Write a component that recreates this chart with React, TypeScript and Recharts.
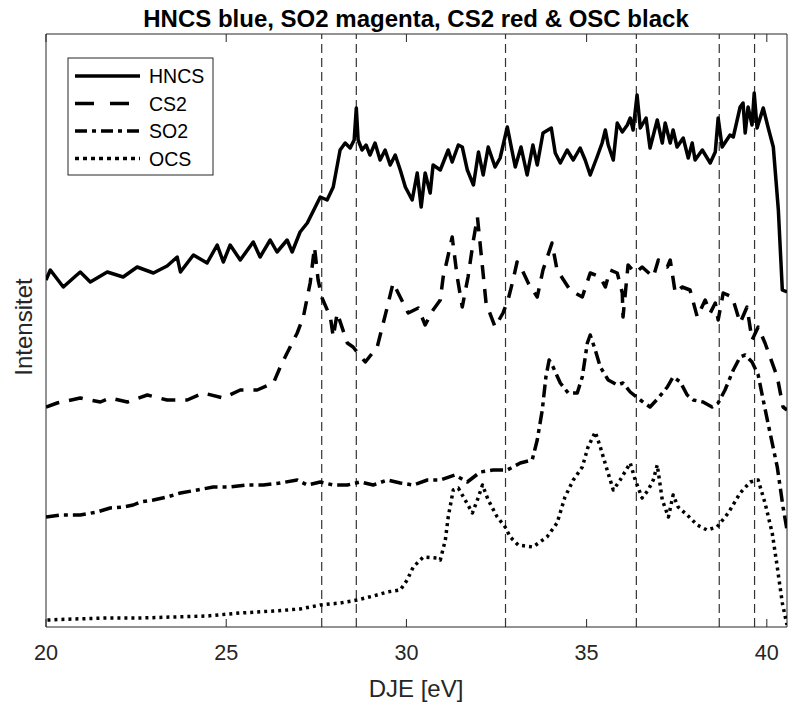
import React from 'react';
import { LineChart, Line, XAxis, YAxis, ReferenceLine } from 'recharts';

const FONT = '"Liberation Sans", Arial, Helvetica, sans-serif';
const AX = '#262626';

const title = 'HNCS blue, SO2 magenta, CS2 red & OSC black';
const xLabel = 'DJE [eV]';
const yLabel = 'Intensitet';
const xTicks = [20, 25, 30, 35, 40];
const xDomain: [number, number] = [20, 40.56];
const yDomain: [number, number] = [0, 593];
const markerLines = [27.65, 28.61, 32.75, 36.38, 38.68, 39.66];
const seriesNames = ['HNCS', 'CS2', 'SO2', 'OCS'];

// [energy eV, intensity (arb. units, stacked)]
const hncs: number[][] = [[20.00,347],[20.12,357],[20.48,340],[20.76,349],[20.95,355],[21.23,345],[21.70,355],[22.14,350],[22.53,360],[22.98,354],[23.36,361],[23.64,370],[23.73,355],[24.09,372],[24.47,364],[24.75,382],[24.92,365],[25.11,382],[25.39,367],[25.75,385],[25.94,370],[26.22,387],[26.41,375],[26.69,387],[26.83,375],[27.05,395],[27.25,404],[27.61,430],[27.80,427],[27.97,440],[28.16,477],[28.30,484],[28.44,479],[28.55,487],[28.61,519],[28.66,487],[28.77,477],[28.88,482],[28.99,472],[29.13,484],[29.27,467],[29.41,477],[29.55,462],[29.69,472],[29.83,457],[29.97,440],[30.16,427],[30.30,454],[30.41,420],[30.52,454],[30.66,434],[30.74,462],[30.94,457],[31.16,477],[31.27,465],[31.44,482],[31.55,480],[31.69,457],[31.86,442],[32.00,475],[32.13,452],[32.27,480],[32.46,460],[32.60,469],[32.80,500],[33.02,460],[33.18,480],[33.35,452],[33.51,482],[33.63,462],[33.79,494],[34.02,499],[34.13,474],[34.27,464],[34.46,477],[34.63,467],[34.82,479],[34.96,467],[35.10,452],[35.29,470],[35.43,484],[35.52,497],[35.60,482],[35.74,467],[35.85,504],[35.99,495],[36.13,502],[36.21,509],[36.29,497],[36.40,532],[36.49,499],[36.65,509],[36.76,479],[36.96,507],[37.10,484],[37.18,504],[37.32,484],[37.40,497],[37.51,480],[37.68,489],[37.82,469],[37.93,484],[38.01,467],[38.21,477],[38.43,464],[38.57,475],[38.65,509],[38.76,480],[38.98,492],[39.07,490],[39.26,520],[39.34,524],[39.40,494],[39.48,520],[39.59,502],[39.65,534],[39.73,499],[39.90,519],[40.04,499],[40.18,480],[40.32,417],[40.43,337],[40.56,335]];

const cs2: number[][] = [[20.00,220],[20.31,224],[20.95,229],[21.51,225],[21.78,229],[22.26,225],[22.81,232],[23.36,227],[23.92,227],[24.36,234],[24.92,229],[25.39,237],[25.86,237],[26.31,244],[26.50,260],[26.69,274],[26.97,294],[27.14,310],[27.33,344],[27.45,380],[27.55,347],[27.66,329],[27.89,310],[27.97,290],[28.08,314],[28.36,284],[28.52,280],[28.86,265],[29.19,280],[29.47,320],[29.63,344],[29.91,324],[30.05,314],[30.33,319],[30.52,302],[30.74,317],[30.94,327],[31.02,350],[31.13,367],[31.27,390],[31.41,350],[31.55,320],[31.71,350],[31.86,387],[31.97,410],[32.11,360],[32.21,324],[32.46,300],[32.68,314],[32.82,327],[32.96,347],[33.07,365],[33.21,357],[33.38,344],[33.63,330],[33.79,357],[34.04,384],[34.18,357],[34.54,337],[34.88,330],[35.10,354],[35.38,350],[35.52,340],[35.65,357],[35.85,354],[35.99,334],[36.01,310],[36.15,362],[36.35,354],[36.54,360],[36.85,350],[36.99,367],[37.24,360],[37.32,367],[37.46,334],[37.65,340],[37.87,337],[38.07,310],[38.29,327],[38.43,314],[38.57,324],[38.65,307],[38.79,334],[39.04,330],[39.26,304],[39.45,320],[39.59,287],[39.76,300],[39.95,284],[40.29,250],[40.45,220],[40.56,217]];

const so2: number[][] = [[20.00,110],[20.40,112],[20.95,112],[21.42,115],[21.78,119],[22.14,120],[22.42,122],[22.62,125],[22.98,127],[23.36,130],[23.73,134],[24.20,137],[24.64,140],[25.11,140],[25.58,142],[26.03,142],[26.50,144],[26.97,147],[27.25,142],[27.61,145],[27.97,142],[28.36,142],[28.72,145],[29.08,142],[29.47,147],[29.83,144],[30.19,142],[30.58,147],[30.94,147],[31.35,152],[31.69,145],[32.05,155],[32.41,157],[32.80,157],[33.16,164],[33.49,167],[33.63,187],[33.77,217],[33.87,250],[33.96,267],[34.07,260],[34.27,244],[34.49,234],[34.74,234],[34.88,250],[35.02,284],[35.10,292],[35.24,277],[35.38,260],[35.60,247],[35.85,242],[36.01,244],[36.21,235],[36.49,227],[36.76,220],[36.99,229],[37.24,240],[37.40,250],[37.60,245],[37.79,232],[37.96,227],[38.23,225],[38.48,220],[38.65,224],[38.84,237],[39.07,257],[39.26,270],[39.40,272],[39.59,265],[39.76,252],[39.90,227],[40.09,194],[40.29,160],[40.45,120],[40.56,97]];

const ocs: number[][] = [[20.04,7],[20.76,8],[21.70,9],[22.62,9],[23.53,10],[24.47,11],[25.39,14],[26.31,16],[27.05,18],[27.61,22],[28.16,24],[28.64,27],[29.08,31],[29.47,35],[29.83,37],[30.02,47],[30.19,60],[30.47,70],[30.85,69],[30.94,67],[31.08,87],[31.16,110],[31.30,137],[31.44,139],[31.63,127],[31.83,114],[31.97,127],[32.11,142],[32.27,127],[32.52,110],[32.74,100],[32.88,90],[33.10,82],[33.51,80],[33.90,90],[34.18,104],[34.40,130],[34.63,147],[34.88,160],[35.04,180],[35.24,195],[35.38,180],[35.57,157],[35.74,137],[35.93,147],[36.21,164],[36.35,147],[36.54,129],[36.71,137],[36.85,147],[36.96,162],[37.10,127],[37.27,110],[37.40,132],[37.54,120],[37.79,112],[38.07,102],[38.34,97],[38.62,100],[38.93,114],[39.26,134],[39.54,145],[39.76,147],[39.95,124],[40.15,94],[40.29,60],[40.43,24],[40.56,2]];

const toRows = (arr: number[][]) => arr.map(([x, y]) => ({ x, y }));

const styles = [
  { dash: undefined as string | undefined, legendDash: undefined as string | undefined },
  { dash: '14 10', legendDash: '19 16' },
  { dash: '13 5 4 5', legendDash: '12 5 4 5' },
  { dash: '3 4', legendDash: '4 4' },
];
const seriesData = [hncs, cs2, so2, ocs];

const W = 789;
const H = 704;
const M = { top: 34, right: 2, bottom: 47, left: 46 };

export default function App() {
  return (
    <div style={{ position: 'absolute', left: 0, top: 0, width: W, height: H, background: '#fff' }}>
      <LineChart width={W} height={H} margin={M}>
        <XAxis
          type="number"
          dataKey="x"
          domain={xDomain}
          ticks={xTicks}
          allowDataOverflow
          height={30}
          tickLine={false}
          tickSize={0}
          tickMargin={18}
          axisLine={{ stroke: AX, strokeWidth: 1 }}
          tick={{ fontSize: 21.6, fill: AX, fontFamily: FONT }}
        />
        <YAxis type="number" hide domain={yDomain} allowDataOverflow />
        <ReferenceLine x={20} stroke={AX} strokeWidth={1} ifOverflow="extendDomain" />
        <ReferenceLine x={40.56} stroke={AX} strokeWidth={1} />
        <ReferenceLine y={593} stroke={AX} strokeWidth={1} />
        {xTicks.map((t) => (
          <ReferenceLine key={'b' + t} segment={[{ x: t, y: 0 }, { x: t, y: 8 }]} stroke={AX} strokeWidth={1} />
        ))}
        {xTicks.map((t) => (
          <ReferenceLine key={'t' + t} segment={[{ x: t, y: 593 }, { x: t, y: 585 }]} stroke={AX} strokeWidth={1} />
        ))}
        {markerLines.map((m) => (
          <ReferenceLine key={'m' + m} x={m} stroke="#333" strokeWidth={1.2} strokeDasharray="9 5" />
        ))}
        {seriesData.map((d, i) => (
          <Line
            key={seriesNames[i]}
            data={toRows(d)}
            dataKey="y"
            name={seriesNames[i]}
            type="linear"
            stroke="#000"
            strokeWidth={3.5}
            strokeDasharray={styles[i].dash}
            strokeLinecap="butt"
            strokeLinejoin="round"
            dot={false}
            activeDot={false}
            isAnimationActive={false}
          />
        ))}
      </LineChart>
      <svg width={W} height={H} style={{ position: 'absolute', left: 0, top: 0, pointerEvents: 'none' }}>
        <text x={416} y={27} textAnchor="middle" fontFamily={FONT} fontWeight="bold" fontSize={24} fill="#000">
          {title}
        </text>
        <text x={416} y={697} textAnchor="middle" fontFamily={FONT} fontSize={24} fill={AX}>
          {xLabel}
        </text>
        <text
          x={0}
          y={0}
          transform="translate(31.5,327) rotate(-90)"
          textAnchor="middle"
          fontFamily={FONT}
          fontSize={24}
          fill={AX}
        >
          {yLabel}
        </text>
        <g transform="translate(68,58)">
          <rect x={0} y={0} width={145} height={117} fill="#fff" stroke={AX} strokeWidth={1} />
          {seriesNames.map((n, i) => {
            const cy = 18 + i * 27.5;
            return (
              <g key={n}>
                <line x1={7} x2={72} y1={cy} y2={cy} stroke="#000" strokeWidth={3.5} strokeDasharray={styles[i].legendDash} />
                <text x={81} y={cy + 7} fontFamily={FONT} fontSize={19.5} fill="#000">
                  {n}
                </text>
              </g>
            );
          })}
        </g>
      </svg>
    </div>
  );
}
